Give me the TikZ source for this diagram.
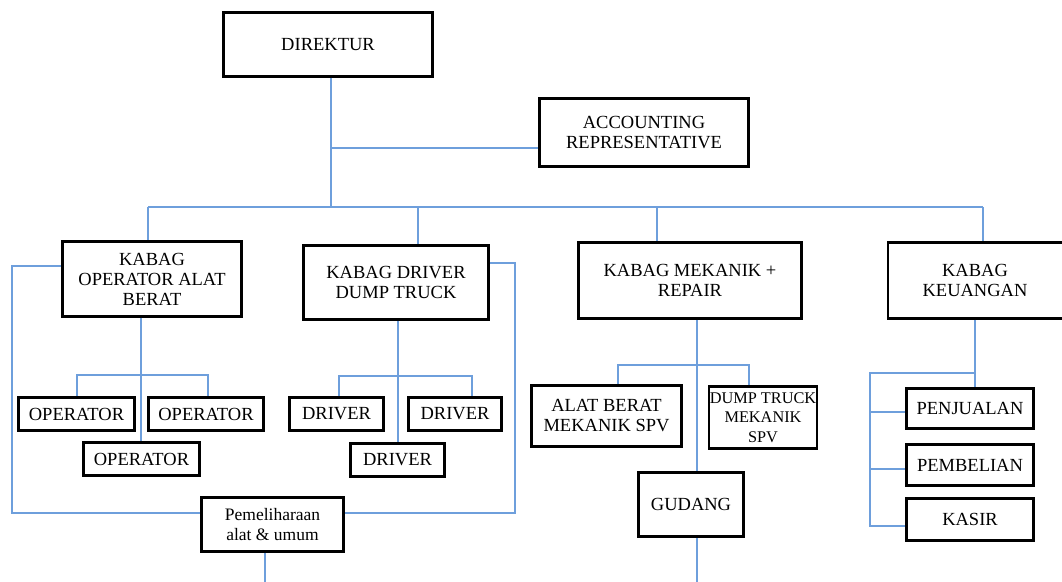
\documentclass[tikz,border=0pt]{standalone}
\usepackage{fontspec}
\setmainfont{Liberation Serif}
\definecolor{conn}{HTML}{6E9FDC}
\begin{document}
\begin{tikzpicture}[x=1pt,y=-1pt,
  box/.style={draw=black,line width=2.8pt,fill=white,align=center,inner sep=0pt,
    font=\fontsize{18.5}{20}\selectfont},
  ln/.style={draw=conn,line width=1.3pt}]
\useasboundingbox (0,0) rectangle (1062,581);
\clip (0,0) rectangle (1062,581);
\fill[white] (0,0) rectangle (1062,581);

% nodes
\node[box,minimum width=209,minimum height=64] (dir) at (328,44.5) {DIREKTUR};
\node[box,minimum width=209,minimum height=68] (acc) at (644,132.5) {\raisebox{-5pt}{ACCOUNTING}\\\raisebox{-5pt}{REPRESENTATIVE}};
\node[box,minimum width=179,minimum height=75] (kop) at (152,279) {KABAG\\OPERATOR ALAT\\BERAT};
\node[box,minimum width=185,minimum height=74] (kdr) at (396,282.5) {KABAG DRIVER\\DUMP TRUCK};
\node[box,minimum width=223,minimum height=76] (kmk) at (690,280.5) {KABAG MEKANIK +\\REPAIR};
\node[box,minimum width=178,minimum height=76] (kku) at (977,280.5) {\hspace*{-4pt}KABAG\\\hspace*{-4pt}KEUANGAN};

\node[box,minimum width=116,minimum height=33] (op1) at (76.5,414) {OPERATOR};
\node[box,minimum width=115,minimum height=33] (op2) at (206,414) {OPERATOR};
\node[box,minimum width=116,minimum height=33] (op3) at (141.5,459) {OPERATOR};

\node[box,minimum width=94,minimum height=33] (dr1) at (336.5,414) {DRIVER};
\node[box,minimum width=93,minimum height=33] (dr2) at (455,414) {DRIVER};
\node[box,minimum width=94,minimum height=33] (dr3) at (397.5,460) {DRIVER};

\node[box,minimum width=142,minimum height=54,font=\fontsize{17.5}{20.5}\selectfont] (pem) at (272.5,524.5) {Pemeliharaan\\alat \& umum};

\node[box,minimum width=150,minimum height=61] (abm) at (606.5,416) {ALAT BERAT\\MEKANIK SPV};
\node[box,minimum width=108,minimum height=62,font=\fontsize{16.3}{19.5}\selectfont] (dtm) at (763,417.5) {DUMP TRUCK\\MEKANIK\\SPV};
\node[box,minimum width=105,minimum height=64] (gud) at (691,504.5) {GUDANG};

\node[box,minimum width=127,minimum height=40] (pen) at (970,408.5) {PENJUALAN};
\node[box,minimum width=127,minimum height=41] (pbl) at (970,465) {PEMBELIAN};
\node[box,minimum width=127,minimum height=42] (kas) at (970,519.5) {KASIR};

% coordinates
\coordinate (bus) at (331,207);
\coordinate (accj) at (331,148);
\coordinate (sb1) at (148,207);
\coordinate (sb2) at (418,207);
\coordinate (sb3) at (657,207);
\coordinate (sb4) at (983,207);
\coordinate (opb) at (141,375);
\coordinate (drb) at (398,376);
\coordinate (mkb) at (697,365);
\coordinate (kub) at (975,373);
\coordinate (kuL) at (870,373);
\coordinate (bot1) at (265,585);
\coordinate (bot2) at (697,585);

% main trunk
\draw[ln] (dir.south -| bus) -- (bus);
\draw[ln] (accj) -- (acc.west |- accj);
\draw[ln] (sb1) -- (sb4);
\draw[ln] (sb1) -- (sb1 |- kop.north);
\draw[ln] (sb2) -- (sb2 |- kdr.north);
\draw[ln] (sb3) -- (sb3 |- kmk.north);
\draw[ln] (sb4) -- (sb4 |- kku.north);

% operators
\draw[ln] (kop.south -| opb) -- (op3.north -| opb);
\draw[ln] (op1.north -| 77,0) -- (77,375) -- (208,375) -- (op2.north -| 208,0);

% drivers
\draw[ln] (kdr.south -| drb) -- (dr3.north -| drb);
\draw[ln] (dr1.north -| 339,0) -- (339,376) -- (472,376) -- (dr2.north -| 472,0);

% pemeliharaan loop
\draw[ln] (kop.west |- 0,266) -- (12,266) -- (12,513) -- (pem.west |- 0,513);
\draw[ln] (kdr.east |- 0,263) -- (515,263) -- (515,513) -- (pem.east |- 0,513);
\draw[ln] (pem.south -| bot1) -- (bot1);

% mekanik
\draw[ln] (kmk.south -| mkb) -- (gud.north -| mkb);
\draw[ln] (abm.north -| 618,0) -- (618,365) -- (749,365) -- (dtm.north -| 749,0);
\draw[ln] (gud.south -| bot2) -- (bot2);

% keuangan
\draw[ln] (kku.south -| kub) -- (pen.north -| kub);
\draw[ln] (kub) -- (kuL) -- (870,526) -- (kas.west |- 0,526);
\draw[ln] (870,412) -- (pen.west |- 0,412);
\draw[ln] (870,469) -- (pbl.west |- 0,469);
\end{tikzpicture}
\end{document}
